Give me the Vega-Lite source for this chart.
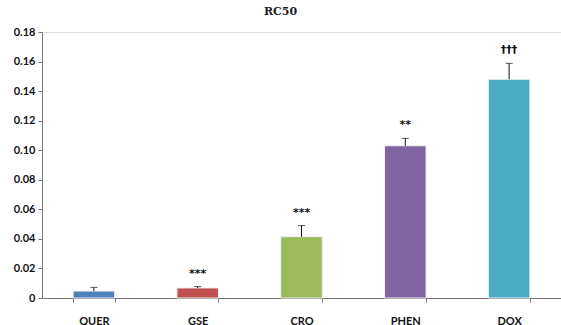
{
  "$schema": "https://vega.github.io/schema/vega-lite/v6.json",
  "width": 519,
  "height": 266,
  "autosize": {"type": "none"},
  "padding": {"left": 42, "top": 32, "right": 0, "bottom": 27},
  "background": "white",
  "title": {
    "text": "RC50",
    "font": "DejaVu Serif",
    "fontSize": 11,
    "fontWeight": "bold",
    "color": "#222222",
    "dx": -21,
    "offset": 9
  },
  "data": {
    "values": [
      {"drug": "QUER", "value": 0.0047, "err": 0.0072, "sig": ""},
      {"drug": "GSE", "value": 0.0068, "err": 0.0077, "sig": "***"},
      {"drug": "CRO", "value": 0.0415, "err": 0.049, "sig": "***"},
      {"drug": "PHEN", "value": 0.103, "err": 0.108, "sig": "**"},
      {"drug": "DOX", "value": 0.148, "err": 0.1588, "sig": "†††"}
    ]
  },
  "encoding": {
    "x": {
      "field": "drug",
      "type": "nominal",
      "sort": null,
      "scale": {"paddingInner": 0.6, "paddingOuter": 0.3},
      "axis": {
        "title": null,
        "labelAngle": 0,
        "labelFont": "Lato",
        "labelFontWeight": "bold",
        "labelFontSize": 11,
        "labelColor": "#111111",
        "labelPadding": 13,
        "tickBand": "extent",
        "tickSize": 4,
        "tickColor": "#777777",
        "domainColor": "#777777"
      }
    },
    "y": {
      "field": "value",
      "type": "quantitative",
      "scale": {"domain": [0, 0.18], "nice": false},
      "axis": {
        "title": null,
        "values": [0, 0.02, 0.04, 0.06, 0.08, 0.1, 0.12, 0.14, 0.16, 0.18],
        "labelExpr": "datum.value == 0 ? '0' : format(datum.value, '.2f')",
        "labelOverlap": false,
        "labelFlush": false,
        "labelBound": false,
        "grid": false,
        "labelFont": "Lato",
        "labelFontWeight": "bold",
        "labelFontSize": 11,
        "labelColor": "#111111",
        "tickSize": 4,
        "tickColor": "#777777",
        "domainColor": "#777777",
        "labelPadding": 3
      }
    }
  },
  "layer": [
    {
      "mark": {"type": "bar", "stroke": "#f0f0f0", "strokeWidth": 1},
      "encoding": {
        "color": {
          "field": "drug",
          "type": "nominal",
          "scale": {
            "domain": ["QUER", "GSE", "CRO", "PHEN", "DOX"],
            "range": ["#4F81BD", "#C0504D", "#9BBB59", "#8064A2", "#4BACC6"]
          },
          "legend": null
        }
      }
    },
    {
      "mark": {"type": "rule", "color": "#111111", "strokeWidth": 1},
      "encoding": {
        "y2": {"field": "err"}
      }
    },
    {
      "mark": {"type": "tick", "color": "#111111", "size": 7, "thickness": 1, "orient": "horizontal", "yOffset": {"expr": "scale('y', datum.err) - scale('y', datum.value)"}}
    },
    {
      "mark": {"type": "text", "font": "DejaVu Sans", "fontSize": 11, "fontWeight": "bold", "color": "#111111", "baseline": "middle", "yOffset": {"expr": "scale('y', datum.err) - scale('y', datum.value) - 13"}},
      "encoding": {
        "text": {"field": "sig"}
      }
    }
  ]
}
